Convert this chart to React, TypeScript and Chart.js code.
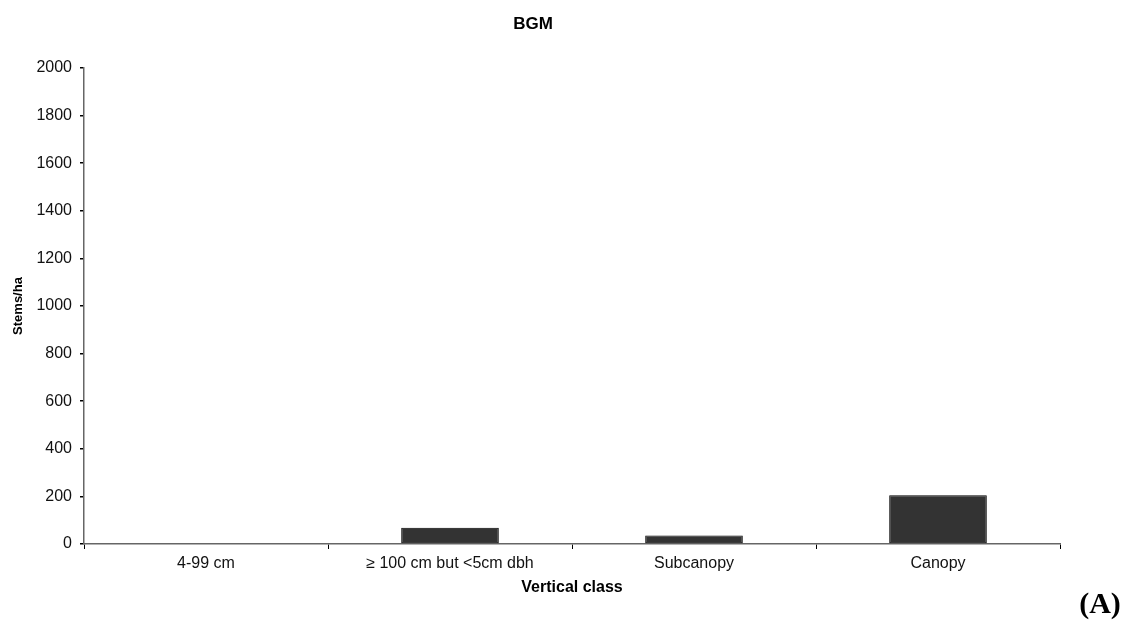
import React, { useEffect, useRef } from "react";
import { Chart, registerables } from "chart.js";

Chart.register(...registerables);

// Stem density by vertical class
const categories = ["4-99 cm", "≥ 100 cm but <5cm dbh", "Subcanopy", "Canopy"];
const stemsPerHa = [0, 68, 36, 205];
const yTicks = [0, 200, 400, 600, 800, 1000, 1200, 1400, 1600, 1800, 2000];

const chartTitle = "BGM";
const panelLabel = "(A)";
const xTitle = "Vertical class";
const yTitle = "Stems/ha";

const SANS = "'Liberation Sans', Arial, sans-serif";
const SERIF = "'Liberation Serif', 'Times New Roman', serif";

// Draws the chart heading and the panel letter on top of the canvas
const annotations = {
  id: "annotations",
  afterDraw(chart: Chart) {
    const ctx = chart.ctx;
    ctx.save();
    ctx.fillStyle = "#000";
    ctx.textAlign = "center";
    ctx.textBaseline = "middle";
    ctx.font = `bold 17px ${SANS}`;
    ctx.fillText(chartTitle, 533, 24);
    ctx.font = `bold 30px ${SERIF}`;
    ctx.fillText(panelLabel, 1100, 605);
    ctx.restore();
  },
};

export default function App() {
  const canvasRef = useRef<HTMLCanvasElement | null>(null);

  useEffect(() => {
    const canvas = canvasRef.current;
    if (!canvas) return;
    const chart = new Chart(canvas, {
      type: "bar",
      data: {
        labels: categories,
        datasets: [
          {
            data: stemsPerHa,
            backgroundColor: "#333333",
            borderColor: "#000000",
            borderWidth: 1,
            borderSkipped: false,
            categoryPercentage: 1,
            barPercentage: 0.4,
          },
        ],
      },
      options: {
        responsive: false,
        animation: false,
        devicePixelRatio: 1,
        layout: { padding: { left: 0, top: 68, right: 66, bottom: 0 } },
        plugins: {
          legend: { display: false },
          tooltip: { enabled: false },
          title: { display: false },
        },
        scales: {
          x: {
            offset: true,
            grid: {
              offset: true,
              drawOnChartArea: false,
              drawTicks: true,
              tickLength: 5,
              tickColor: "#000",
            },
            border: { color: "#666", width: 1.5 },
            ticks: {
              color: "#111",
              font: { family: SANS, size: 16 },
              padding: 5,
              maxRotation: 0,
              autoSkip: false,
            },
            title: {
              display: true,
              text: xTitle,
              color: "#000",
              font: { family: SANS, size: 16, weight: "bold" },
              padding: { top: 0, bottom: 25 },
            },
            afterFit(scale: any) {
              scale.height = 78;
            },
          },
          y: {
            min: 0,
            max: 2000,
            afterBuildTicks(scale: any) {
              scale.ticks = yTicks.map((v) => ({ value: v }));
            },
            grid: {
              drawOnChartArea: false,
              drawTicks: true,
              tickLength: 4,
              tickColor: "#000",
              lineWidth: 1.5,
            },
            border: { color: "#666", width: 1.5 },
            ticks: {
              color: "#111",
              font: { family: SANS, size: 16 },
              padding: 8,
              callback: (value: any) => String(value),
            },
            title: {
              display: true,
              text: yTitle,
              color: "#000",
              font: { family: SANS, size: 13, weight: "bold" },
              padding: { top: 11, bottom: 0 },
            },
            afterFit(scale: any) {
              scale.width = 84;
            },
          },
        },
      },
      plugins: [annotations],
    });
    return () => chart.destroy();
  }, []);

  return (
    <div style={{ position: "absolute", left: 0, top: 0, width: 1126, height: 622, background: "#fff" }}>
      <canvas ref={canvasRef} width={1126} height={622} style={{ display: "block" }} />
    </div>
  );
}
